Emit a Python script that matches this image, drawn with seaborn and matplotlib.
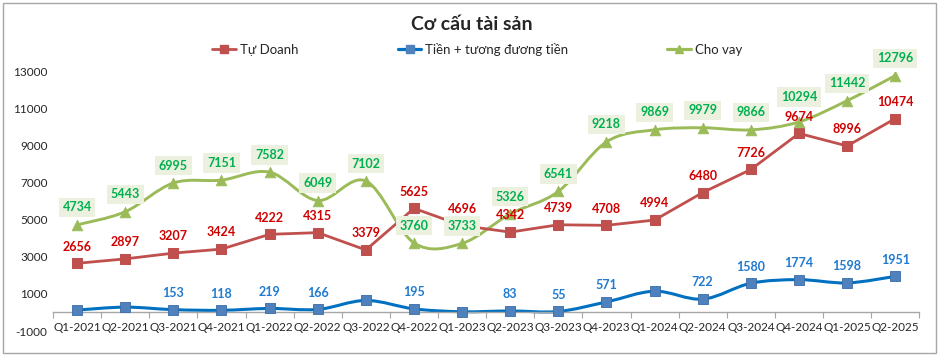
import numpy as np
import pandas as pd
import matplotlib
matplotlib.use("Agg")
import matplotlib.pyplot as plt
import seaborn as sns
from matplotlib.path import Path
from matplotlib.patches import PathPatch, Rectangle
from matplotlib.lines import Line2D
from matplotlib.ticker import FixedLocator, NullFormatter

quarters = ["Q1-2021", "Q2-2021", "Q3-2021", "Q4-2021", "Q1-2022", "Q2-2022",
            "Q3-2022", "Q4-2022", "Q1-2023", "Q2-2023", "Q3-2023", "Q4-2023",
            "Q1-2024", "Q2-2024", "Q3-2024", "Q4-2024", "Q1-2025", "Q2-2025"]
tu_doanh = [2656, 2897, 3207, 3424, 4222, 4315, 3379, 5625, 4696, 4342,
            4739, 4708, 4994, 6480, 7726, 9674, 8996, 10474]
tien = [130, 290, 153, 118, 219, 166, 650, 195, 40, 83,
        55, 571, 1150, 722, 1580, 1774, 1598, 1951]
# labels shown on the chart for the cash series (some points have none)
tien_labels = ["", "", "153", "118", "219", "166", "", "195", "", "83",
               "55", "571", "", "722", "1580", "1774", "1598", "1951"]
cho_vay = [4734, 5443, 6995, 7151, 7582, 6049, 7102, 3760, 3733, 5326,
           6541, 9218, 9869, 9979, 9866, 10294, 11442, 12796]

RED = "#C0504D"
RED_TXT = "#D00000"
BLUE = "#0070C0"
BLUE_MK = "#4F81BD"
BLUE_TXT = "#1F7AD0"
GREEN = "#9BBB59"
GREEN_TXT = "#00B050"

sns.set_theme(style="white")
plt.rcParams["font.family"] = ["Lato", "DejaVu Sans"]
plt.rcParams["xtick.labelsize"] = 8.5
plt.rcParams["ytick.labelsize"] = 8.5

df = pd.DataFrame({"x": np.arange(len(quarters)), "quarter": quarters,
                   "tu_doanh": tu_doanh, "tien": tien, "cho_vay": cho_vay})

fig = plt.figure(figsize=(9.4, 3.56), dpi=100)
ax = fig.add_axes([0.0564, 0.0702, 0.9216, 0.728])


def smooth_path(xs, ys):
    # excel-like smoothed line: bezier segments through every point
    pts = np.column_stack([xs, ys]).astype(float)
    n = len(pts)
    verts = [pts[0]]
    codes = [Path.MOVETO]
    for i in range(n - 1):
        p0 = pts[i - 1] if i > 0 else pts[i]
        p1 = pts[i]
        p2 = pts[i + 1]
        p3 = pts[i + 2] if i + 2 < n else pts[i + 1]
        verts += [p1 + (p2 - p0) / 6, p2 - (p3 - p1) / 6, p2]
        codes += [Path.CURVE4] * 3
    return Path(verts, codes)


# smoothed lines
ax.add_patch(PathPatch(smooth_path(df["x"], df["cho_vay"]), fc="none",
                       ec=GREEN, lw=2.1, zorder=2, capstyle="round"))
ax.add_patch(PathPatch(smooth_path(df["x"], df["tien"]), fc="none",
                       ec=BLUE, lw=2.2, zorder=2, capstyle="round"))

# straight line for tu doanh
sns.lineplot(data=df, x="x", y="tu_doanh", color=RED, lw=2, ax=ax, zorder=3,
             marker="s", markersize=7, markeredgecolor=RED, markerfacecolor=RED)
sns.scatterplot(data=df, x="x", y="tien", marker="s", s=60, color=BLUE_MK,
                edgecolor="#3A6BA8", linewidth=0.6, ax=ax, zorder=4)
sns.scatterplot(data=df, x="x", y="cho_vay", marker="^", s=60, color=GREEN,
                edgecolor=GREEN, linewidth=0.5, ax=ax, zorder=4)

# data labels
lab_kw = dict(textcoords="offset points", ha="center", va="center",
              fontsize=9, fontweight="bold")
for x, v in zip(df["x"], df["tu_doanh"]):
    ax.annotate(str(v), (x, v), xytext=(0, 12), color=RED_TXT, zorder=7,
                **lab_kw)
for x, v, t in zip(df["x"], df["tien"], tien_labels):
    if t:
        ax.annotate(t, (x, v), xytext=(0, 12), color=BLUE_TXT, zorder=7,
                    **lab_kw)
for i, (x, v) in enumerate(zip(df["x"], df["cho_vay"])):
    dy = 18 if i == 15 else 12.5   # Q4-2024 label sits higher to clear 9674
    ax.annotate(str(v), (x, v), xytext=(0, dy), color=GREEN_TXT, zorder=6,
                bbox=dict(boxstyle="square,pad=0.3", fc="#EBF1DE", ec="none"),
                **lab_kw)

# axes
ax.set_xlim(-0.5, len(quarters) - 0.5)
ax.set_ylim(-1000, 13000)
ax.set_yticks(np.arange(-1000, 13001, 2000))
ax.set_yticklabels([str(v) for v in range(-1000, 13001, 2000)])
ax.xaxis.set_major_locator(FixedLocator(df["x"].tolist()))
ax.set_xticklabels(quarters)
ax.xaxis.set_minor_locator(FixedLocator(np.arange(-0.5, len(quarters), 1)))
ax.xaxis.set_minor_formatter(NullFormatter())
ax.tick_params(axis="x", which="major", length=0, pad=7, labelsize=8.5)
ax.tick_params(axis="x", which="minor", length=4, width=0.8, color="#A6A6A6",
               direction="out", bottom=True)
ax.tick_params(axis="y", length=0, pad=4, labelsize=8.5)
for s in ["top", "right", "left"]:
    ax.spines[s].set_visible(False)
ax.spines["bottom"].set_position(("data", 0))
ax.spines["bottom"].set_color("#A6A6A6")
ax.spines["bottom"].set_linewidth(1)
ax.set_xlabel("")
ax.set_ylabel("")
ax.grid(False)

# title and legend
fig.text(0.502, 0.93, "Cơ cấu tài sản", ha="center", va="center",
         fontsize=14, fontweight="bold")
handles = [
    Line2D([], [], color=RED, lw=2, marker="s", markersize=6),
    Line2D([], [], color=BLUE, lw=2.3, marker="s", markersize=6,
           markerfacecolor=BLUE_MK, markeredgecolor=BLUE_MK),
    Line2D([], [], color=GREEN, lw=2.3, marker="^", markersize=6),
]
fig.legend(handles, ["Tự Doanh", "Tiền + tương đương tiền", "Cho vay"],
           loc="center", bbox_to_anchor=(0.508, 0.862), ncol=3, frameon=False,
           fontsize=9.5, handlelength=1.8, handletextpad=0.3, columnspacing=7.5)

fig.patches.append(Rectangle((0.003, 0.008), 0.993, 0.983,
                             transform=fig.transFigure, fill=False,
                             ec="#A6A6A6", lw=1))

fig.savefig("out.png", dpi=100)
